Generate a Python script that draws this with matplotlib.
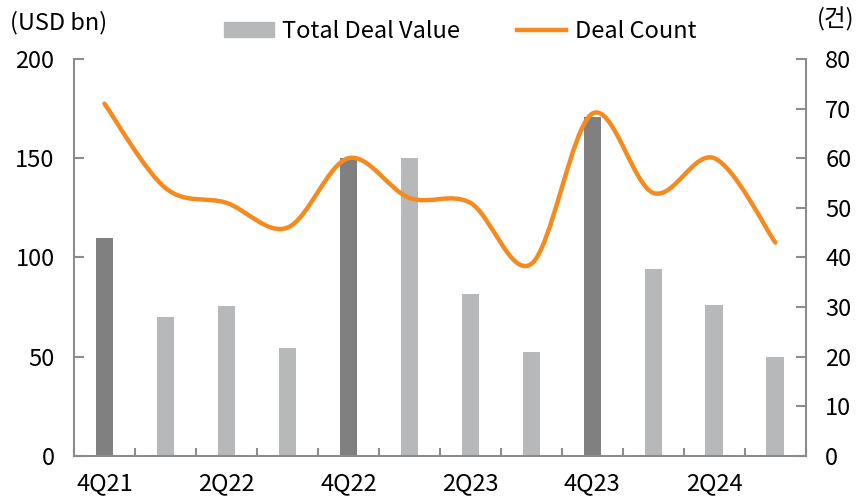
import matplotlib.pyplot as plt
from matplotlib.path import Path
from matplotlib.patches import PathPatch
from matplotlib.lines import Line2D
from matplotlib.patches import Patch

quarters = ['4Q21', '1Q22', '2Q22', '3Q22', '4Q22', '1Q23', '2Q23', '3Q23',
            '4Q23', '1Q24', '2Q24', '3Q24']
deal_value = [110, 70, 75.5, 54.5, 150, 150, 81.5, 52.5, 171, 94, 76, 50]
deal_count = [71, 54, 51, 46, 60, 52, 51, 38.7, 69, 53, 60, 43]
tick_labels = ['4Q21', '', '2Q22', '', '4Q22', '', '2Q23', '', '4Q23', '', '2Q24', '']

plt.rcParams['font.family'] = ['Noto Sans CJK KR', 'DejaVu Sans']

dark = '#808080'
light = '#b7b8b9'
orange = '#f58a1f'
spine = '#8c8c8c'

fig = plt.figure(figsize=(8.6, 4.96), dpi=100)
ax = fig.add_axes([0.086, 0.081, 0.851, 0.800])
ax2 = ax.twinx()

x = list(range(len(quarters)))
colors = [dark if q.startswith('4Q') else light for q in quarters]
ax.bar(x, deal_value, width=0.29, color=colors, zorder=2)

# smoothed line (catmull-rom -> bezier, like Excel's smoothed line)
pts = list(zip(x, deal_count))
verts = [pts[0]]
codes = [Path.MOVETO]
n = len(pts)
for i in range(n - 1):
    p0 = pts[max(i - 1, 0)]
    p1 = pts[i]
    p2 = pts[i + 1]
    p3 = pts[min(i + 2, n - 1)]
    c1 = (p1[0] + (p2[0] - p0[0]) / 6, p1[1] + (p2[1] - p0[1]) / 6)
    c2 = (p2[0] - (p3[0] - p1[0]) / 6, p2[1] - (p3[1] - p1[1]) / 6)
    verts += [c1, c2, p2]
    codes += [Path.CURVE4] * 3
ax2.add_patch(PathPatch(Path(verts, codes), fill=False, edgecolor=orange,
                        lw=3.2, capstyle='round', zorder=3))
ax2.plot(x, deal_count, alpha=0)

ax.set_xlim(-0.5, 11.5)
ax.set_ylim(0, 200)
ax2.set_ylim(0, 80)
ax.set_yticks([0, 50, 100, 150, 200])
ax2.set_yticks(range(0, 81, 10))
ax.set_xticks(x)
ax.set_xticklabels(tick_labels)
ax.set_xticks([i + 0.5 for i in range(-1, 12)], minor=True)

for a in (ax, ax2):
    a.spines['top'].set_visible(False)
    for s in ('left', 'right', 'bottom'):
        a.spines[s].set_color(spine)
        a.spines[s].set_linewidth(1.5)
ax.spines['right'].set_visible(False)
ax2.spines['left'].set_visible(False)
ax2.spines['bottom'].set_visible(False)

ax.tick_params(axis='x', which='major', length=0, labelsize=17, pad=12)
ax.tick_params(axis='x', which='minor', direction='in', length=6, color=spine, width=1.5)
ax.tick_params(axis='y', direction='in', length=7, color=spine, width=1.5, labelsize=17, pad=14)
ax2.tick_params(axis='y', direction='in', length=7, color=spine, width=1.5, labelsize=17, pad=14)

fig.text(0.012, 0.955, '(USD bn)', fontsize=17, va='center', ha='left')
fig.text(0.994, 0.962, '(건)', fontsize=17, va='center', ha='right')

handles = [Patch(color=light), Line2D([], [], color=orange, lw=3.2)]
fig.legend(handles, ['Total Deal Value', 'Deal Count'], loc='center',
           bbox_to_anchor=(0.535, 0.937), ncol=2, frameon=False, fontsize=17,
           handlelength=2.1, handleheight=0.6, columnspacing=2.4, handletextpad=0.35)

fig.savefig('out.png', dpi=100)
